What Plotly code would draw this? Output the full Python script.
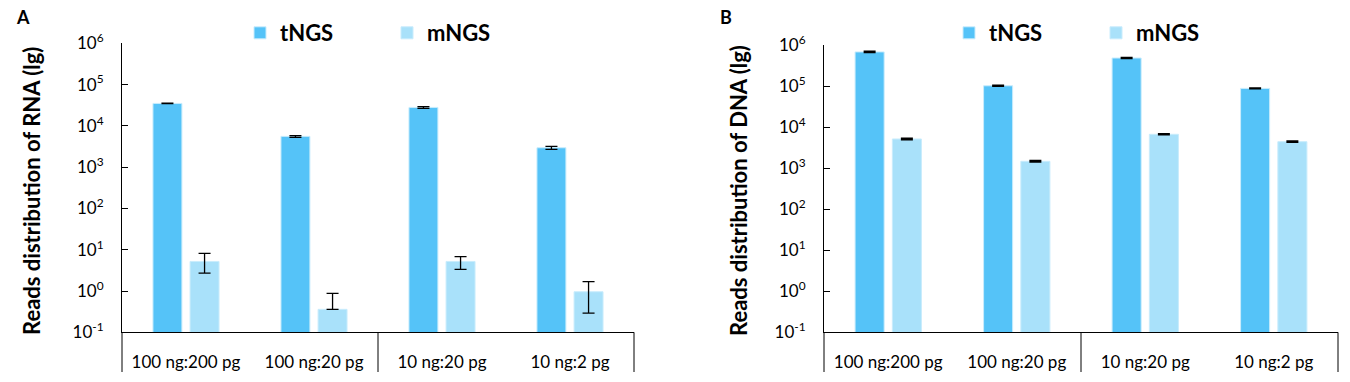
import plotly.graph_objects as go

categories = ["100 ng:200 pg", "100 ng:20 pg", "10 ng:20 pg", "10 ng:2 pg"]

rna_tngs = [35000, 5570, 28000, 2950]
rna_tngs_err_plus = [400, 220, 1200, 250]
rna_tngs_err_minus = [400, 280, 1400, 260]
rna_mngs = [5.2, 0.36, 5.2, 0.96]
rna_mngs_err_plus = [3.0, 0.52, 1.6, 0.72]
rna_mngs_err_minus = [2.5, 0.0, 1.85, 0.67]

dna_tngs = [690000, 103000, 490000, 89000]
dna_tngs_err = [15000, 1500, 8000, 1200]
dna_mngs = [5190, 1480, 6750, 4460]
dna_mngs_err = [120, 40, 80, 110]

tick_vals = [0.1, 1, 10, 100, 1000, 10000, 100000, 1000000]
tick_text = ["10<sup>-1</sup>", "10<sup>0</sup>", "10<sup>1</sup>", "10<sup>2</sup>",
             "10<sup>3</sup>", "10<sup>4</sup>", "10<sup>5</sup>", "10<sup>6</sup>"]

C_T = "#55C3F8"
C_M = "#A9E1FA"
FONT = "Lato"

fig = go.Figure()

def add_bars(x, y, ep, em, name, color, xa, ya, legend, thick):
    fig.add_trace(go.Bar(
        x=x, y=y, name=name, xaxis=xa, yaxis=ya, legend=legend,
        marker=dict(color=color, line=dict(color="#C9ECFC", width=1)),
        error_y=dict(type="data", symmetric=False, array=ep, arrayminus=em,
                     color="black", thickness=thick, width=6),
    ))

add_bars(categories, rna_tngs, rna_tngs_err_plus, rna_tngs_err_minus, "tNGS", C_T, "x", "y", "legend", 1.3)
add_bars(categories, rna_mngs, rna_mngs_err_plus, rna_mngs_err_minus, "mNGS", C_M, "x", "y", "legend", 1.3)
add_bars(categories, dna_tngs, dna_tngs_err, dna_tngs_err, "tNGS", C_T, "x2", "y2", "legend2", 2)
add_bars(categories, dna_mngs, dna_mngs_err, dna_mngs_err, "mNGS", C_M, "x2", "y2", "legend2", 2)

W, H = 1350, 382
def px(v): return v / W
def py(v): return 1 - v / H

yax_common = dict(type="log", range=[-1, 6], tickvals=tick_vals, ticktext=tick_text,
                  automargin=False,
                  showgrid=False, zeroline=False, showline=True, linecolor="black", linewidth=1,
                  ticks="inside", ticklen=6, tickcolor="black", tickwidth=1,
                  tickfont=dict(family=FONT, size=17, color="black"), ticklabelstandoff=14)
xax_common = dict(type="category", range=[-0.5, 3.5], showgrid=False, zeroline=False,
                  automargin=False,
                  showline=True, linecolor="black", linewidth=1, ticks="",
                  tickfont=dict(family=FONT, size=17, color="black"), ticklabelstandoff=14)

legend_common = dict(orientation="h", font=dict(family=FONT, size=22, color="black", weight="bold"),
                     bgcolor="rgba(0,0,0,0)", entrywidth=102, entrywidthmode="pixels",
                     xanchor="left", yanchor="middle", itemclick=False)

fig.update_layout(
    template="none",
    width=W, height=H, margin=dict(l=0, r=0, t=0, b=0, autoexpand=False),
    paper_bgcolor="white", plot_bgcolor="white",
    barmode="group", bargap=0.42, bargroupgap=0.22,
    font=dict(family=FONT, color="black"),
    xaxis=dict(domain=[px(122), px(634)], anchor="y", **xax_common),
    yaxis=dict(domain=[py(332.3), py(43.3)], anchor="x", **yax_common),
    xaxis2=dict(domain=[px(824), px(1338)], anchor="y2", **xax_common),
    yaxis2=dict(domain=[py(332.3), py(45.3)], anchor="x2", **yax_common),
    legend=dict(x=px(240), y=py(33), **legend_common),
    legend2=dict(x=px(949), y=py(33), **legend_common),
)

# group dividers below the axes
shapes = []
for xa, x0, x1 in [("x", 122, 634), ("x2", 824, 1338)]:
    for f in [0, 0.5, 1]:
        xv = x0 + f * (x1 - x0)
        shapes.append(dict(type="line", xref="paper", yref="paper", x0=px(xv), x1=px(xv),
                           y0=py(332.3), y1=py(372), line=dict(color="black", width=1)))
fig.update_layout(shapes=shapes)

ann_common = dict(xref="paper", yref="paper", showarrow=False, xanchor="center", yanchor="middle")
annotations = [
    dict(text="<b>A</b>", x=px(23), y=py(17), font=dict(family=FONT, size=18, color="black"), **ann_common),
    dict(text="<b>B</b>", x=px(726), y=py(17), font=dict(family=FONT, size=18, color="black"), **ann_common),
    dict(text="<b>Reads distribution of RNA (lg)</b>", x=px(31), y=py(191), textangle=-90,
         font=dict(family=FONT, size=22, color="black"), **ann_common),
    dict(text="<b>Reads distribution of DNA (lg)</b>", x=px(738), y=py(191), textangle=-90,
         font=dict(family=FONT, size=22, color="black"), **ann_common),
]
fig.update_layout(annotations=annotations)

fig.write_html("out.html", config={"displayModeBar": False},
               post_script="document.body.style.margin='0';")
